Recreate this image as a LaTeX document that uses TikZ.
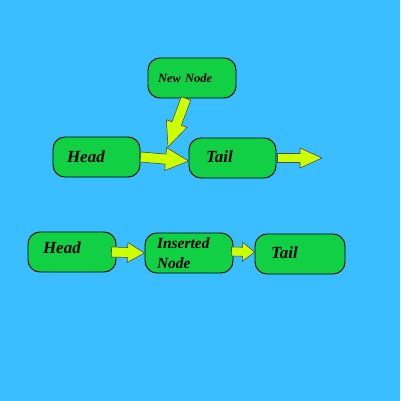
\documentclass[tikz,border=0pt]{standalone}
\usepackage{fontspec}
\setmainfont{Liberation Serif}
\usetikzlibrary{calc}

\definecolor{skyblue}{RGB}{59,190,255}
\definecolor{nodegreen}{RGB}{17,208,68}
\definecolor{arrowlime}{RGB}{204,255,0}

\tikzset{
  listnode/.style={draw=black, line width=0.9pt, fill=nodegreen, rounded corners=12pt,
    minimum height=40pt, align=left, font=\bfseries\itshape\fontsize{17}{20}\selectfont},
  fatarrow/.style={fill=arrowlime, draw=black!70, line width=0.6pt, line join=miter}
}

% block arrow: from, to, head length, head half width, shaft half width
\newcommand{\fatarrow}[5]{%
  \coordinate (fq) at ($(#2)!#3!(#1)$);
  \filldraw[fatarrow] ($(#1)!#5!90:(#2)$) -- ($(fq)!#5!90:(#2)$) -- ($(fq)!#4!90:(#2)$)
    -- (#2) -- ($(fq)!#4!-90:(#2)$) -- ($(fq)!#5!-90:(#2)$) -- ($(#1)!#5!-90:(#2)$) -- cycle;
}

\begin{document}
\begin{tikzpicture}[x=1pt,y=-1pt]
\fill[skyblue] (0,0) rectangle (400,401);
\useasboundingbox (0,0) rectangle (400,401);

% before insertion
\node[listnode, text width=68pt, inner xsep=10pt, font=\bfseries\itshape\fontsize{12.5}{14}\selectfont] (newnode) at (192,78) {New Node};
\node[listnode, text width=59pt, inner xsep=14pt] (head1) at (96.5,157) {Head};
\node[listnode, text width=53pt, inner xsep=17pt, text depth=2pt] (tail1) at (232.5,158) {Tail};

% after insertion
\node[listnode, text width=58pt, inner xsep=15pt, text depth=8pt] (head2) at (72,252) {Head};
\node[listnode, text width=64pt, inner xsep=12pt, font=\bfseries\itshape\fontsize{15.5}{20}\selectfont] (ins) at (189,253) {Inserted\\Node};
\node[listnode, text width=58pt, inner xsep=16pt, text depth=2pt] (tail2) at (300,254) {Tail};

\coordinate (t1in) at ([yshift=-3pt]tail1.west);
\coordinate (nnout) at ([xshift=-6pt]newnode.south);
\coordinate (nntip) at (168,147);
\coordinate (t1out) at ([xshift=1pt]tail1.east);
\coordinate (t1end) at (322,158);
\coordinate (h2out) at ([xshift=-5pt]head2.east);
\coordinate (insout) at ([xshift=-2pt, yshift=1.5pt]ins.east);
\coordinate (t2in) at ([yshift=2pt]tail2.west);

\fatarrow{head1.east}{t1in}{23pt}{11.5pt}{5pt}
\fatarrow{nnout}{nntip}{25pt}{11pt}{5pt}
\fatarrow{t1out}{t1end}{22pt}{10pt}{4.5pt}
\fatarrow{h2out}{ins.west}{17pt}{10pt}{5pt}
\fatarrow{insout}{t2in}{12pt}{9.5pt}{4.5pt}
\end{tikzpicture}
\end{document}
